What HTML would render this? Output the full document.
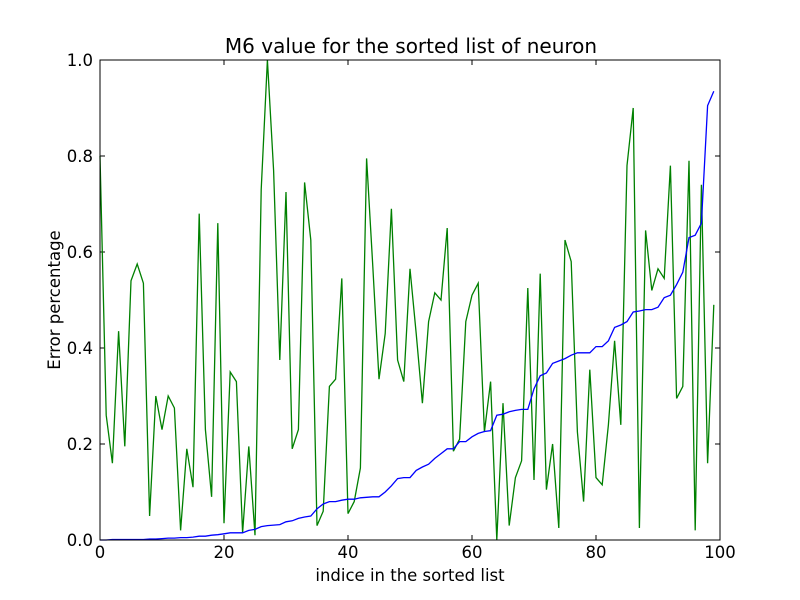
<!DOCTYPE html>
<html><head><meta charset="utf-8"><style>
body{margin:0;background:#fff;}
svg{display:block;font-family:"DejaVu Sans","Liberation Sans",sans-serif;}
</style></head><body>
<svg id="chart" width="800" height="600" viewBox="0 0 800 600">
<rect width="800" height="600" fill="#fff"/>
<text x="411" y="53" font-size="20" text-anchor="middle">M6 value for the sorted list of neuron</text>
<text x="410" y="581" font-size="16.5" text-anchor="middle">indice in the sorted list</text>
<text x="60" y="300" font-size="16.5" text-anchor="middle" transform="rotate(-90 60 300)">Error percentage</text>
<g id="ticks"></g>
<g id="series"></g>
<rect x="100" y="60" width="620" height="480" fill="none" stroke="#000" stroke-width="1"/>
</svg>
<script>
const xTicks=[0,20,40,60,80,100];
const yTicks=[0.0,0.2,0.4,0.6,0.8,1.0];
const greenValues=[0.80,0.26,0.16,0.435,0.195,0.54,0.575,0.535,0.05,0.30,0.23,0.30,0.275,0.02,0.19,0.11,0.68,0.23,0.09,0.66,0.035,0.35,0.33,0.015,0.195,0.01,0.73,1.0,0.77,0.375,0.725,0.19,0.23,0.745,0.625,0.03,0.06,0.32,0.335,0.545,0.055,0.08,0.15,0.795,0.57,0.335,0.43,0.69,0.375,0.33,0.565,0.43,0.285,0.455,0.515,0.50,0.65,0.185,0.21,0.455,0.51,0.535,0.225,0.33,0.0,0.285,0.03,0.13,0.165,0.525,0.125,0.555,0.105,0.20,0.025,0.625,0.58,0.225,0.08,0.355,0.13,0.115,0.24,0.415,0.24,0.78,0.90,0.025,0.645,0.52,0.565,0.545,0.78,0.295,0.32,0.79,0.02,0.74,0.16,0.49];
const blueValues=[0,0,0.001,0.001,0.001,0.001,0.001,0.001,0.002,0.002,0.003,0.004,0.004,0.005,0.005,0.006,0.008,0.008,0.01,0.011,0.013,0.015,0.015,0.015,0.02,0.022,0.028,0.03,0.031,0.032,0.038,0.04,0.045,0.048,0.05,0.065,0.075,0.08,0.08,0.083,0.085,0.085,0.088,0.089,0.09,0.09,0.1,0.113,0.128,0.13,0.13,0.145,0.152,0.158,0.17,0.18,0.19,0.19,0.205,0.205,0.215,0.222,0.226,0.228,0.26,0.262,0.267,0.27,0.272,0.272,0.315,0.342,0.348,0.368,0.373,0.378,0.385,0.39,0.39,0.39,0.403,0.403,0.415,0.443,0.448,0.455,0.475,0.477,0.48,0.48,0.485,0.505,0.51,0.532,0.558,0.63,0.635,0.66,0.905,0.935];
const NS="http://www.w3.org/2000/svg";
const X0=100,X1=720,Y0=540,Y1=60;
function xs(v){return X0+(v-0)/(100-0)*(X1-X0);}
function ys(v){return Y0-(v-0)/(1-0)*(Y0-Y1);}
const tg=document.getElementById('ticks');
xTicks.forEach(t=>{
  const x=xs(t);
  const l1=document.createElementNS(NS,'line');
  l1.setAttribute('x1',x);l1.setAttribute('x2',x);l1.setAttribute('y1',540);l1.setAttribute('y2',535);l1.setAttribute('stroke','#000');
  
  
  tg.appendChild(l1);
  const l2=document.createElementNS(NS,'line');
  l2.setAttribute('x1',x);l2.setAttribute('x2',x);l2.setAttribute('y1',60);l2.setAttribute('y2',65);l2.setAttribute('stroke','#000');
  
  
  tg.appendChild(l2);
  const tx=document.createElementNS(NS,'text');
  tx.setAttribute('x',x);tx.setAttribute('y',558);tx.setAttribute('font-size','16.5');tx.setAttribute('text-anchor','middle');
  tx.textContent=String(t);
  
  
  tg.appendChild(tx);
});
yTicks.forEach(t=>{
  const y=ys(t);
  const l1=document.createElementNS(NS,'line');
  l1.setAttribute('x1',100);l1.setAttribute('x2',105);l1.setAttribute('y1',y);l1.setAttribute('y2',y);l1.setAttribute('stroke','#000');
  
  
  tg.appendChild(l1);
  const l2=document.createElementNS(NS,'line');
  l2.setAttribute('x1',715);l2.setAttribute('x2',720);l2.setAttribute('y1',y);l2.setAttribute('y2',y);l2.setAttribute('stroke','#000');
  
  
  tg.appendChild(l2);
  const tx=document.createElementNS(NS,'text');
  tx.setAttribute('x',93);tx.setAttribute('y',y+6);tx.setAttribute('font-size','16.5');tx.setAttribute('text-anchor','end');
  tx.textContent=t.toFixed(1);
  
  
  tg.appendChild(tx);
});
const sg=document.getElementById('series');
function line(vals,color,name){
  const p=document.createElementNS(NS,'polyline');
  p.setAttribute('points',vals.map((v,i)=>xs(i).toFixed(1)+','+ys(v).toFixed(1)).join(' '));
  p.setAttribute('fill','none');p.setAttribute('stroke',color);p.setAttribute('stroke-width','1.3');
  
  
  sg.appendChild(p);
}
line(greenValues,'#008000','green-series-line');
line(blueValues,'#0000ff','blue-series-line');
</script>
</body></html>
